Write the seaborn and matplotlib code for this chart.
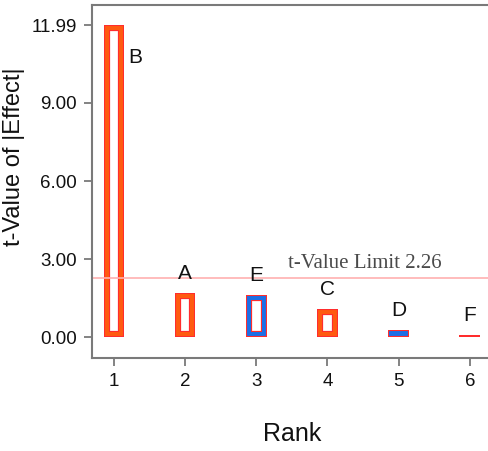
import matplotlib
matplotlib.use("Agg")
import matplotlib.pyplot as plt
import matplotlib.patheffects as pe
import pandas as pd
import seaborn as sns

# Pareto-style ranking of effects
ranks = [1, 2, 3, 4, 5, 6]
effects = ["B", "A", "E", "C", "D", "F"]
t_values = [11.99, 1.69, 1.63, 1.08, 0.27, 0.08]
bar_colors = ["#ff5a10", "#ff5a10", "#1c6fe6", "#ff5a10", "#1c6fe6", "#1c6fe6"]
y_ticks = [0.00, 3.00, 6.00, 9.00, 11.99]
t_limit = 2.26

df = pd.DataFrame({"Rank": ranks, "t": t_values, "Effect": effects})

sns.set_style("white")
plt.rcParams["font.family"] = ["Liberation Sans", "DejaVu Sans"]

fig = plt.figure(figsize=(4.89, 4.51), dpi=100)
ax = fig.add_axes([0.188, 0.206, 0.812, 0.783])

sns.barplot(data=df, x="Rank", y="t", hue="Effect",
            palette=dict(zip(effects, bar_colors)), saturation=1,
            width=0.29, legend=False, ax=ax)

# hollow bars: red rim, coloured band, red inner line (strokes clipped to the bar)
edge_red = "#ff2d2d"
for patch in ax.patches:
    col = patch.get_facecolor()
    patch.set_facecolor("none")
    patch.set_clip_path(patch)
    patch.set_path_effects([
        pe.Stroke(linewidth=8.8, foreground=edge_red),
        pe.Stroke(linewidth=7.2, foreground=col),
        pe.Stroke(linewidth=1.5, foreground=edge_red),
    ])

# t-value limit line
ax.axhline(t_limit, color="#ffb0b0", lw=1.2, zorder=1)
ax.text(2.44, 2.65, f"t-Value Limit {t_limit}", family="Liberation Serif",
        fontsize=15, color="#4a4a4a", ha="left", va="baseline")

# effect letters
for i, (lab, v) in enumerate(zip(effects, t_values)):
    if i == 0:
        ax.annotate(lab, (i, v), xytext=(10, -27), textcoords="offset points",
                    ha="left", va="baseline", fontsize=15, color="#111111")
    else:
        ax.annotate(lab, (i, v), xytext=(0, 10), textcoords="offset points",
                    ha="center", va="baseline", fontsize=15, color="#111111")

ax.set_xlim(-0.31, 5.27)
ax.set_ylim(-0.81, 12.77)
ax.set_yticks(y_ticks)
ax.set_yticklabels([f"{t:.2f}" for t in y_ticks])

for side in ["top", "left", "bottom"]:
    ax.spines[side].set_color("#7a7a7a")
    ax.spines[side].set_linewidth(1.5)
ax.spines["right"].set_visible(False)

ax.tick_params(axis="both", direction="out", length=6, width=1.3, color="#7a7a7a",
               labelsize=13.5, labelcolor="#111111", pad=5)
ax.tick_params(axis="both", which="both", left=True, bottom=True)

ax.set_xlabel("Rank", fontsize=18, color="#111111")
ax.set_ylabel("t-Value of |Effect|", fontsize=17, color="#111111")
ax.xaxis.set_label_coords(0.504, -0.18)
ax.yaxis.set_label_coords(-0.169, 0.57)

fig.savefig("out.png", dpi=100)
